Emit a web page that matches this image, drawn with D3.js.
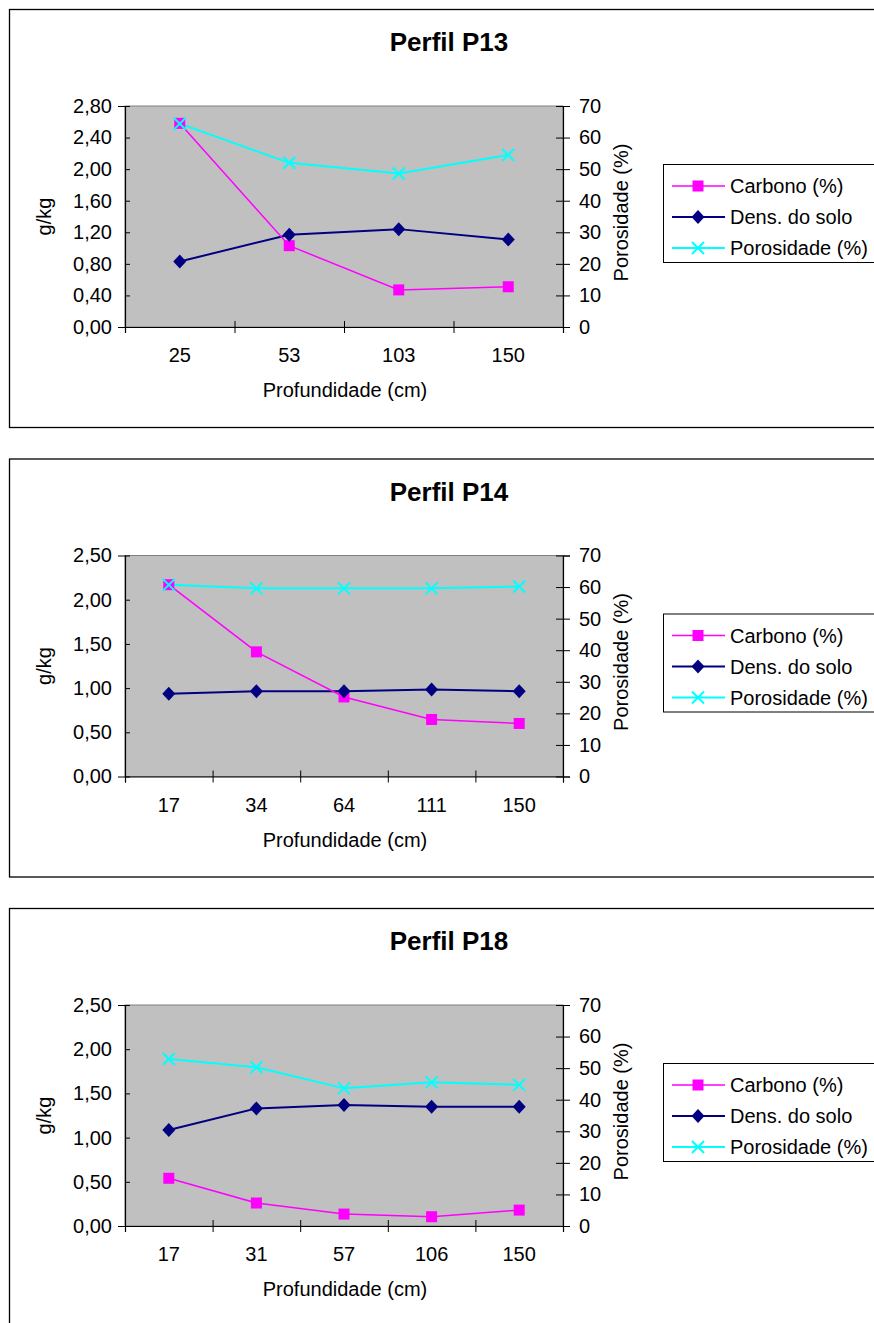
<!DOCTYPE html>
<html lang="pt">
<head>
  <meta charset="UTF-8">
  <title>Perfis</title>
  <style>
    body { margin: 0; background: #fff; }
    text { font-family: "Liberation Sans", Arial, sans-serif; fill: #000; }
  </style>
</head>
<body>
  <script src="https://cdn.jsdelivr.net/npm/d3@7/dist/d3.min.js"></script>
  <script>
    var width = 874;
    var height = 1323;

    // dados
    var seriesNames = ["Carbono (%)", "Dens. do solo", "Porosidade (%)"];

    var p13Depth = ["25", "53", "103", "150"];
    var p13Carbono = [2.58, 1.03, 0.47, 0.51];
    var p13Dens = [0.83, 1.17, 1.24, 1.11];
    var p13Poros = [64.4, 52.0, 48.6, 54.5];

    var p14Depth = ["17", "34", "64", "111", "150"];
    var p14Carbono = [2.17, 1.41, 0.90, 0.645, 0.60];
    var p14Dens = [0.935, 0.965, 0.965, 0.985, 0.965];
    var p14Poros = [60.7, 59.6, 59.6, 59.6, 60.2];

    var p18Depth = ["17", "31", "57", "106", "150"];
    var p18Carbono = [0.54, 0.26, 0.135, 0.105, 0.18];
    var p18Dens = [1.085, 1.33, 1.37, 1.35, 1.35];
    var p18Poros = [52.9, 50.3, 43.6, 45.5, 44.7];

    var leftTicks13 = [0, 0.4, 0.8, 1.2, 1.6, 2.0, 2.4, 2.8];
    var leftTicks25 = [0, 0.5, 1.0, 1.5, 2.0, 2.5];
    var rightTicks = [0, 10, 20, 30, 40, 50, 60, 70];

    var charts = [
      { title: "Perfil P13", depth: p13Depth, carbono: p13Carbono, dens: p13Dens, poros: p13Poros, leftMax: 2.8, leftTicks: leftTicks13 },
      { title: "Perfil P14", depth: p14Depth, carbono: p14Carbono, dens: p14Dens, poros: p14Poros, leftMax: 2.5, leftTicks: leftTicks25 },
      { title: "Perfil P18", depth: p18Depth, carbono: p18Carbono, dens: p18Dens, poros: p18Poros, leftMax: 2.5, leftTicks: leftTicks25 }
    ];

    var colors = { carbono: "#ff00ff", dens: "#000080", poros: "#00ffff" };
    var fs = 20;

    var svg = d3.select("body").append("svg")
      .attr("width", width)
      .attr("height", height);

    var plot = { left: 125, right: 563, top: 106, bottom: 327 };
    var comma = function (f) { return function (d) { return d3.format(f)(d).replace(".", ","); }; };

    function drawMarker(g, type, x, y) {
      if (type == "carbono") {
        g.append("rect").attr("x", x - 5.5).attr("y", y - 5.5).attr("width", 11).attr("height", 11)
          .attr("fill", colors.carbono);
      } else if (type == "dens") {
        g.append("path").attr("d", "M" + x + "," + (y - 7) + "L" + (x + 6.5) + "," + y + "L" + x + "," + (y + 7) + "L" + (x - 6.5) + "," + y + "Z")
          .attr("fill", colors.dens);
      } else {
        g.append("path").attr("d", "M" + (x - 6) + "," + (y - 6) + "L" + (x + 6) + "," + (y + 6) + "M" + (x + 6) + "," + (y - 6) + "L" + (x - 6) + "," + (y + 6))
          .attr("stroke", colors.poros).attr("stroke-width", 2).attr("fill", "none");
      }
    }

    charts.forEach(function (c, ci) {
      var g = svg.append("g").attr("transform", "translate(0," + (ci * 449.5) + ")");

      // moldura
      g.append("rect").attr("x", 9.5).attr("y", 9.5).attr("width", 900).attr("height", 418)
        .attr("fill", "#fff").attr("stroke", "#000").attr("stroke-width", 1.3);

      g.append("text").attr("x", 449).attr("y", 51).attr("text-anchor", "middle")
        .style("font-size", "26px").style("font-weight", "bold").text(c.title);

      var x = d3.scaleBand().domain(c.depth).range([plot.left, plot.right]);
      var xb = d3.scaleLinear().domain([0, c.depth.length]).range([plot.left, plot.right]);
      var yL = d3.scaleLinear().domain([0, c.leftMax]).range([plot.bottom, plot.top]);
      var yR = d3.scaleLinear().domain([0, 70]).range([plot.bottom, plot.top]);

      g.append("rect").attr("x", plot.left).attr("y", plot.top)
        .attr("width", plot.right - plot.left).attr("height", plot.bottom - plot.top)
        .attr("fill", "#c0c0c0").attr("stroke", "#808080").attr("stroke-width", 1);

      // eixo esquerdo
      var axL = g.append("g").attr("transform", "translate(" + plot.left + ",0)")
        .call(d3.axisLeft(yL).tickValues(c.leftTicks).tickSize(7).tickPadding(6)
          .tickFormat(comma(".2f")));
      axL.selectAll(".tick line").attr("x2", 5);
      // eixo direito
      var axR = g.append("g").attr("transform", "translate(" + plot.right + ",0)")
        .call(d3.axisRight(yR).tickValues(rightTicks).tickSize(7).tickPadding(9));
      axR.selectAll(".tick line").attr("x1", -7);
      // eixo x: marcas entre as categorias
      var axB = g.append("g").attr("transform", "translate(0," + plot.bottom + ")")
        .call(d3.axisBottom(xb).ticks(c.depth.length).tickSize(6).tickFormat(""));
      axB.selectAll(".tick line").attr("y1", -6);
      g.selectAll(".domain").attr("stroke", "#000").attr("stroke-width", 1.2);
      g.selectAll(".tick text").style("font-size", fs + "px")
        .style("font-family", "'Liberation Sans', Arial, sans-serif");

      g.selectAll(".xlab").data(c.depth).enter().append("text")
        .attr("x", function (d) { return x(d) + x.bandwidth() / 2; })
        .attr("y", 362).attr("text-anchor", "middle").style("font-size", fs + "px")
        .text(function (d) { return d; });

      g.append("text").attr("x", 345).attr("y", 397).attr("text-anchor", "middle")
        .style("font-size", fs + "px").text("Profundidade (cm)");
      g.append("text").attr("transform", "translate(51," + ((plot.top + plot.bottom) / 2) + ") rotate(-90)")
        .attr("text-anchor", "middle").style("font-size", fs + "px").text("g/kg");
      g.append("text").attr("transform", "translate(628," + ((plot.top + plot.bottom) / 2 - 4) + ") rotate(-90)")
        .attr("text-anchor", "middle").style("font-size", fs + "px").text("Porosidade (%)");

      var cx = function (d, i) { return x(c.depth[i]) + x.bandwidth() / 2; };
      var lineL = d3.line().x(cx).y(function (d) { return yL(d); });
      var lineR = d3.line().x(cx).y(function (d) { return yR(d); });

      g.append("path").datum(c.poros).attr("d", lineR).attr("fill", "none")
        .attr("stroke", colors.poros).attr("stroke-width", 2);
      g.append("path").datum(c.dens).attr("d", lineL).attr("fill", "none")
        .attr("stroke", colors.dens).attr("stroke-width", 2);
      g.append("path").datum(c.carbono).attr("d", lineL).attr("fill", "none")
        .attr("stroke", colors.carbono).attr("stroke-width", 1.5);

      c.carbono.forEach(function (v, i) { drawMarker(g, "carbono", cx(v, i), yL(v)); });
      c.dens.forEach(function (v, i) { drawMarker(g, "dens", cx(v, i), yL(v)); });
      c.poros.forEach(function (v, i) { drawMarker(g, "poros", cx(v, i), yR(v)); });

      // legenda
      var lg = g.append("g");
      lg.append("rect").attr("x", 663.5).attr("y", 164.5).attr("width", 212).attr("height", 98)
        .attr("fill", "#fff").attr("stroke", "#000").attr("stroke-width", 1);
      var keys = ["carbono", "dens", "poros"];
      keys.forEach(function (k, i) {
        var ly = 186 + i * 31;
        lg.append("line").attr("x1", 672).attr("x2", 725).attr("y1", ly).attr("y2", ly)
          .attr("stroke", colors[k]).attr("stroke-width", k == "carbono" ? 1.5 : 2);
        drawMarker(lg, k, 698, ly);
        lg.append("text").attr("x", 730).attr("y", ly + 7).style("font-size", fs + "px").text(seriesNames[i]);
      });
    });
  </script>
</body>
</html>
